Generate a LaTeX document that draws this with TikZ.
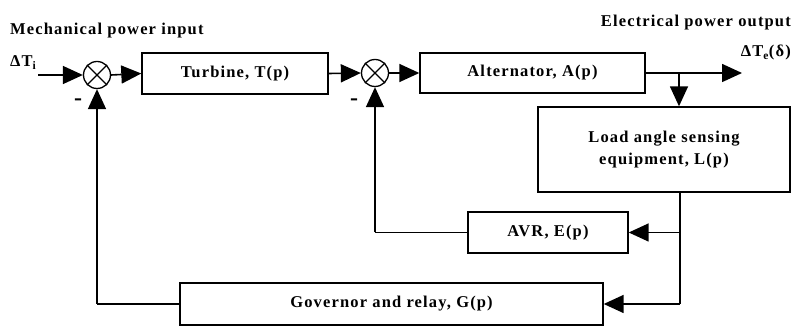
\documentclass[tikz,border=0pt]{standalone}
\usepackage{fontspec}
\setmainfont{Liberation Serif}[LetterSpace=7]
\usetikzlibrary{arrows.meta}
\begin{document}
\begin{tikzpicture}[x=1pt,y=-1pt,
  every node/.style={font=\fontsize{16.5}{19}\selectfont\bfseries},
  blk/.style={draw,line width=1.4pt,rectangle,inner sep=0pt,align=center},
  sumj/.style={draw,line width=1.3pt,circle,minimum size=27pt,inner sep=0pt},
  conn/.style={line width=1.6pt,-{Triangle[length=20pt,width=18pt]}},
  wire/.style={line width=1.6pt},
  lbl/.style={inner sep=0pt,anchor=base west},
  minus/.style={inner sep=0pt,font=\fontsize{24}{24}\selectfont\bfseries}]
\useasboundingbox (0,0) rectangle (795,328);
% nodes
\node[sumj] (s1) at (97,75) {};
\node[sumj] (s2) at (375,73) {};
\draw[line width=1.3pt] (s1.north west)--(s1.south east) (s1.north east)--(s1.south west);
\draw[line width=1.3pt] (s2.north west)--(s2.south east) (s2.north east)--(s2.south west);
\node[blk,minimum width=186pt,minimum height=41pt] (tur) at (235,73.5) {Turbine, T(p)};
\node[blk,minimum width=225pt,minimum height=40pt] (alt) at (532.5,73) {Alternator, A(p)};
\node[blk,minimum width=252pt,minimum height=85pt] (load) at (664,149.5) {Load angle sensing\\[3pt]equipment, L(p)};
\node[blk,minimum width=160pt,minimum height=41pt] (avr) at (548,232.5) {AVR, E(p)};
\node[blk,minimum width=423pt,minimum height=42pt] (gov) at (391.5,304) {Governor and relay, G(p)};
% labels
\node[lbl] (mech) at (10,35) {Mechanical power input};
\node[lbl] (dti) at (10,67) {ΔT\textsubscript{i}};
\node[lbl,anchor=base east] (elec) at (791,27) {Electrical power output};
\node[lbl,anchor=base east] (dte) at (791,57) {ΔT\textsubscript{e}(δ)};
\node[minus] (m1) at (78,102) {-};
\node[minus] (m2) at (354,102) {-};
% coordinates
\coordinate (in) at (38,75);
\coordinate (br) at (679,73);
\coordinate (out) at (742,73);
\coordinate (fb) at (680,192);
\coordinate (fa) at (680,232.5);
\coordinate (fg) at (680,304);
\coordinate (al) at (375,232.5);
\coordinate (gl) at (97,304);
% connectors
\draw[conn] (in) -- (s1.west);
\draw[conn] (s1.east) -- (tur.west);
\draw[conn] (tur.east) -- (s2.west);
\draw[conn] (s2.east) -- (alt.west);
\draw[conn] (alt.east) -- (out);
\draw[conn] (br) -- (load.north -| br);
\draw[wire] (load.south -| fb) -- (fg);
\draw[conn] (fa) -- (avr.east);
\draw[conn] (fg) -- (gov.east);
\draw[wire] (avr.west) -- (al);
\draw[conn] (al) -- (s2.south);
\draw[wire] (gov.west) -- (gl);
\draw[conn] (gl) -- (s1.south);
\end{tikzpicture}
\end{document}
